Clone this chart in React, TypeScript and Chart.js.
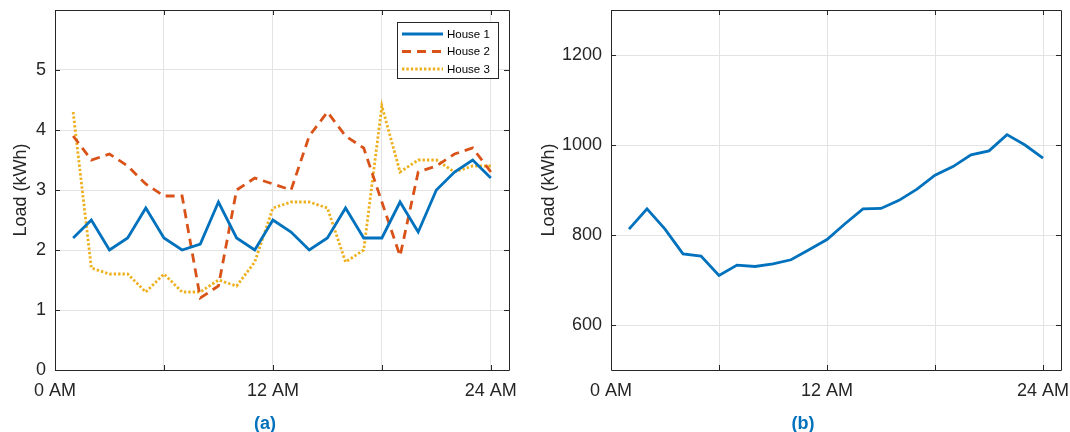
import React, { useEffect, useRef } from "react";
import { Chart, registerables } from "chart.js";

Chart.register(...registerables);

// ---------- data ----------
const hours = [1, 2, 3, 4, 5, 6, 7, 8, 9, 10, 11, 12, 13, 14, 15, 16, 17, 18, 19, 20, 21, 22, 23, 24];
const house1 = [2.2, 2.5, 2.0, 2.2, 2.7, 2.2, 2.0, 2.1, 2.8, 2.2, 2.0, 2.5, 2.3, 2.0, 2.2, 2.7, 2.2, 2.2, 2.8, 2.3, 3.0, 3.3, 3.5, 3.2];
const house2 = [3.9, 3.5, 3.6, 3.4, 3.1, 2.9, 2.9, 1.2, 1.4, 3.0, 3.2, 3.1, 3.0, 3.9, 4.3, 3.9, 3.7, 2.8, 1.9, 3.3, 3.4, 3.6, 3.7, 3.3];
const house3 = [4.3, 1.7, 1.6, 1.6, 1.3, 1.6, 1.3, 1.3, 1.5, 1.4, 1.8, 2.7, 2.8, 2.8, 2.7, 1.8, 2.0, 4.4, 3.3, 3.5, 3.5, 3.3, 3.4, 3.4];
const totalLoad = [813, 858, 813, 758, 753, 710, 733, 730, 736, 745, 767, 790, 825, 858, 859, 877, 902, 933, 952, 978, 987, 1023, 1000, 971];

const seriesNames = ["House 1", "House 2", "House 3"];
const xTickValues = [0, 6, 12, 18, 24];
const xTickLabels: Record<number, string> = { 0: "0 AM", 12: "12 AM", 24: "24 AM" };
const yTicksA = [0, 1, 2, 3, 4, 5];
const yTicksB = [600, 800, 1000, 1200];
const yTitle = "Load (kWh)";

const BLUE = "#0072BD";
const ORANGE = "#D95319";
const YELLOW = "#EDB120";
const AXIS = "#262626";
const GRID = "#e3e3e3";
const FONT = "'Liberation Sans', Arial, Helvetica, sans-serif";

const toPts = (vals: number[]) => hours.map((h, i) => ({ x: h, y: vals[i] }));

const boxPlugin = {
  id: "boxTicks",
  afterDatasetsDraw(chart: any) {
    const { ctx, chartArea: a, scales } = chart;
    const xs = scales.x;
    const ys = scales.y;
    ctx.save();
    ctx.strokeStyle = AXIS;
    ctx.lineWidth = 1;
    ctx.beginPath();
    ctx.rect(Math.round(a.left) + 0.5, Math.round(a.top) + 0.5, Math.round(a.right - a.left), Math.round(a.bottom - a.top));
    ctx.stroke();
    const L = 5;
    ctx.beginPath();
    xs.ticks.forEach((t: any) => {
      const px = Math.round(xs.getPixelForValue(t.value)) + 0.5;
      ctx.moveTo(px, a.bottom);
      ctx.lineTo(px, a.bottom - L);
      ctx.moveTo(px, a.top);
      ctx.lineTo(px, a.top + L);
    });
    ys.ticks.forEach((t: any) => {
      const py = Math.round(ys.getPixelForValue(t.value)) + 0.5;
      ctx.moveTo(a.left, py);
      ctx.lineTo(a.left + L, py);
      ctx.moveTo(a.right, py);
      ctx.lineTo(a.right - L, py);
    });
    ctx.stroke();
    ctx.restore();
  },
  afterDraw(chart: any) {
    const opts = chart.options.plugins.boxTicks;
    if (!opts || !opts.legend) return;
    const { ctx } = chart;
    const bx = 397;
    const by = 22;
    const bw = 101;
    const bh = 56;
    ctx.save();
    ctx.fillStyle = "#ffffff";
    ctx.fillRect(bx, by, bw, bh);
    ctx.strokeStyle = AXIS;
    ctx.lineWidth = 1;
    ctx.strokeRect(bx + 0.5, by + 0.5, bw, bh);
    ctx.font = `11.5px ${FONT}`;
    ctx.textBaseline = "middle";
    ctx.textAlign = "left";
    chart.data.datasets.forEach((ds: any, i: number) => {
      const y = by + 12 + i * 17.5;
      ctx.strokeStyle = ds.borderColor;
      ctx.lineWidth = ds.borderWidth;
      ctx.setLineDash(ds.borderDash || []);
      ctx.beginPath();
      ctx.moveTo(bx + 5, y);
      ctx.lineTo(bx + 46, y);
      ctx.stroke();
      ctx.setLineDash([]);
      ctx.fillStyle = "#000000";
      ctx.fillText(ds.label, bx + 50, y + 0.5);
    });
    ctx.restore();
  },
};

function makeOptions(yMin: number, yMax: number, yTicks: number[], yWidth: number, titlePad: number, padRight: number, legend: boolean) {
  return {
    responsive: false,
    animation: false as const,
    layout: { padding: { top: 10, right: padRight, bottom: 0, left: 0 } },
    plugins: {
      legend: { display: false },
      tooltip: { enabled: false },
      boxTicks: { legend },
    },
    scales: {
      x: {
        type: "linear" as const,
        min: 0,
        max: 25,
        afterBuildTicks: (s: any) => {
          s.ticks = xTickValues.map((v) => ({ value: v }));
        },
        afterFit: (s: any) => {
          s.height = 62;
          s.paddingLeft = 0;
          s.paddingRight = 0;
        },
        ticks: {
          autoSkip: false,
          maxRotation: 0,
          padding: 10,
          color: AXIS,
          font: { size: 18, family: FONT },
          callback: (v: any) => xTickLabels[v] ?? "",
        },
        grid: { color: GRID, drawTicks: false, lineWidth: 1 },
        border: { display: false },
      },
      y: {
        type: "linear" as const,
        min: yMin,
        max: yMax,
        afterBuildTicks: (s: any) => {
          s.ticks = yTicks.map((v) => ({ value: v }));
        },
        afterFit: (s: any) => {
          s.width = yWidth;
          s.paddingTop = 0;
          s.paddingBottom = 0;
        },
        ticks: {
          padding: 9,
          color: AXIS,
          font: { size: 18, family: FONT },
          callback: (v: any) => String(v),
        },
        grid: { color: GRID, drawTicks: false, lineWidth: 1 },
        border: { display: false },
        title: {
          display: true,
          text: yTitle,
          color: AXIS,
          font: { size: 18, family: FONT, lineHeight: 1 },
          padding: { top: titlePad, bottom: 0 },
        },
      },
    },
  };
}

function ChartA() {
  const ref = useRef<HTMLCanvasElement | null>(null);
  useEffect(() => {
    if (!ref.current) return;
    const chart = new Chart(ref.current, {
      type: "line",
      data: {
        datasets: [
          { label: seriesNames[0], data: toPts(house1), borderColor: BLUE, borderWidth: 2.8, pointRadius: 0, tension: 0, fill: false },
          { label: seriesNames[1], data: toPts(house2), borderColor: ORANGE, borderWidth: 2.8, borderDash: [9, 6], pointRadius: 0, tension: 0, fill: false },
          { label: seriesNames[2], data: toPts(house3), borderColor: YELLOW, borderWidth: 2.8, borderDash: [2.4, 2], pointRadius: 0, tension: 0, fill: false },
        ],
      },
      options: makeOptions(0, 6, yTicksA, 55, 12, 21, true) as any,
      plugins: [boxPlugin],
    });
    return () => chart.destroy();
  }, []);
  return <canvas ref={ref} width={530} height={432} style={{ position: "absolute", left: 0, top: 0, width: 530, height: 432 }} />;
}

function ChartB() {
  const ref = useRef<HTMLCanvasElement | null>(null);
  useEffect(() => {
    if (!ref.current) return;
    const chart = new Chart(ref.current, {
      type: "line",
      data: {
        datasets: [
          { label: "Total", data: toPts(totalLoad), borderColor: BLUE, borderWidth: 2.8, pointRadius: 0, tension: 0, fill: false },
        ],
      },
      options: makeOptions(500, 1300, yTicksB, 71, 0, 9, false) as any,
      plugins: [boxPlugin],
    });
    return () => chart.destroy();
  }, []);
  return <canvas ref={ref} width={530} height={432} style={{ position: "absolute", left: 540, top: 0, width: 530, height: 432 }} />;
}

const captionStyle: React.CSSProperties = {
  position: "absolute",
  top: 413,
  width: 100,
  textAlign: "center",
  fontFamily: FONT,
  fontWeight: "bold",
  fontSize: 18,
  lineHeight: "20px",
  color: BLUE,
};

export default function App() {
  return (
    <div style={{ position: "fixed", left: 0, top: 0, width: 1070, height: 432, background: "#ffffff", overflow: "hidden" }}>
      <ChartA />
      <ChartB />
      <div style={{ ...captionStyle, left: 215 }}>(a)</div>
      <div style={{ ...captionStyle, left: 753 }}>(b)</div>
    </div>
  );
}
